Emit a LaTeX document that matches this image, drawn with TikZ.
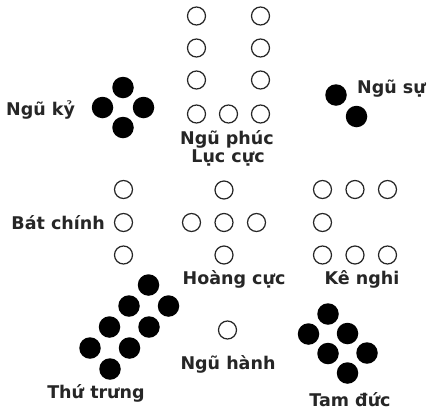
\documentclass[tikz,border=0pt]{standalone}
\usepackage{fontspec}
\setmainfont{DejaVu Sans}
\begin{document}
\begin{tikzpicture}[x=1pt,y=-1pt,
  oc/.style={circle,draw=black!85,line width=1.25pt,minimum size=18pt,inner sep=0pt},
  fc/.style={circle,fill=black,minimum size=21.5pt,inner sep=0pt},
  lbl/.style={font=\fontsize{17.5}{19}\selectfont\bfseries,text=black!85,inner sep=0pt,anchor=base}]
\useasboundingbox[fill=white] (0,0) rectangle (428,413);
\begin{scope}
\clip (0,0) rectangle (428,413);
% Ngu phuc / Luc cuc
\foreach \i/\y in {1/16,2/48,3/80,4/114}{
  \node[oc] (pl\i) at (196.5,\y) {};
  \node[oc] (pr\i) at (260.5,\y) {};
}
\node[oc] (pm) at (228.5,114) {};
\node[lbl] (tphuc) at (227,144) {Ngũ phúc};
\node[lbl] (tluc) at (228,162) {Lục cực};
% Ngu ky
\node[fc] (k1) at (123,87.5) {};
\node[fc] (k2) at (102.5,107.5) {};
\node[fc] (k3) at (143.5,107.5) {};
\node[fc] (k4) at (123,127.5) {};
\node[lbl,anchor=base west] (tky) at (6,115) {Ngũ kỷ};
% Ngu su
\node[fc] (s1) at (336,95) {};
\node[fc] (s2) at (356.5,116.5) {};
\node[lbl,anchor=base west] (tsu) at (357,93) {Ngũ sự};
% Bat chinh
\node[oc] (b1) at (123.5,189.5) {};
\node[oc] (b2) at (123.5,222.5) {};
\node[oc] (b3) at (123.5,255) {};
\node[lbl,anchor=base east] (tbat) at (105,229) {Bát chính};
% Hoang cuc
\node[oc] (h1) at (224,190) {};
\node[oc] (h2) at (191.5,222.5) {};
\node[oc] (h3) at (224,222.5) {};
\node[oc] (h4) at (256.5,222.5) {};
\node[oc] (h5) at (224,255) {};
\node[lbl] (thoang) at (234,284) {Hoàng cực};
% Ke nghi
\node[oc] (g1) at (322.5,189.5) {};
\node[oc] (g2) at (355,189.5) {};
\node[oc] (g3) at (387.5,189.5) {};
\node[oc] (g4) at (322.5,222.5) {};
\node[oc] (g5) at (322.5,255) {};
\node[oc] (g6) at (355,255) {};
\node[oc] (g7) at (387.5,255) {};
\node[lbl] (tke) at (362,284) {Kê nghi};
% Ngu hanh
\node[oc] (n1) at (227.5,330) {};
\node[lbl] (thanh) at (228,369) {Ngũ hành};
% Thu trung
\foreach \i in {0,1,2,3}{
  \node[fc] (ta\i) at ({148.5-19.5*\i},{285+21*\i}) {};
  \node[fc] (tb\i) at ({168.5-19.5*\i},{306+21*\i}) {};
}
\node[lbl] (tthu) at (96,398) {Thứ trưng};
% Tam duc
\foreach \i in {0,1,2}{
  \node[fc] (da\i) at ({328+19.5*\i},{314+19.5*\i}) {};
  \node[fc] (db\i) at ({308.5+19.5*\i},{334+19.5*\i}) {};
}
\node[lbl] (ttam) at (350,406) {Tam đức};
\end{scope}
\end{tikzpicture}
\end{document}
